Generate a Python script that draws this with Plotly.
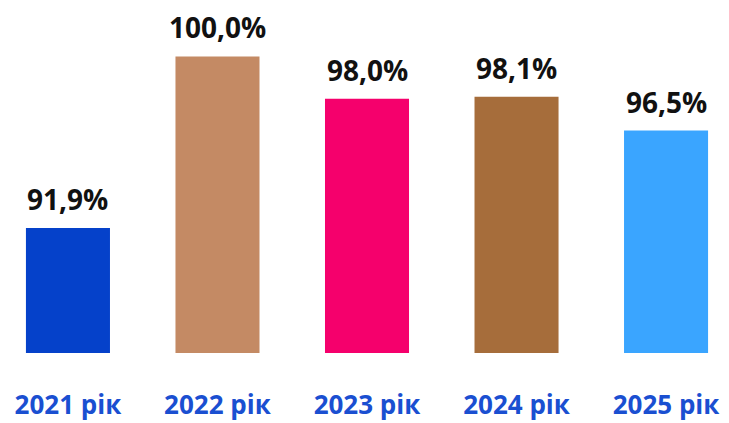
import plotly.graph_objects as go

years = ["2021 рік", "2022 рік", "2023 рік", "2024 рік", "2025 рік"]
values = [91.9, 100.0, 98.0, 98.1, 96.5]
labels = ["91,9%", "100,0%", "98,0%", "98,1%", "96,5%"]
bar_colors = ["#0541CA", "#C48A64", "#F5006C", "#A66D3B", "#3AA5FF"]

positions = list(range(len(years)))

fig = go.Figure(
    go.Bar(
        x=positions,
        y=values,
        width=0.562,
        marker=dict(color=bar_colors, line=dict(width=0)),
        hoverinfo="skip",
    )
)

# value labels above the bars
for pos, val, lab in zip(positions, values, labels):
    fig.add_annotation(
        x=pos,
        y=val,
        text=lab,
        showarrow=False,
        yanchor="bottom",
        yshift=8,
        font=dict(family="Open Sans, sans-serif", size=28, color="#111111", weight="bold"),
    )

# page body adds 8px margin, so the figure is 8px smaller than the window
fig.update_layout(
    width=721,
    height=415,
    margin=dict(l=0, r=0, t=6, b=70),
    paper_bgcolor="#FFFFFF",
    plot_bgcolor="#FFFFFF",
    showlegend=False,
)
fig.update_xaxes(
    range=[-0.401, 4.421],
    tickvals=positions,
    ticktext=years,
    tickfont=dict(family="Open Sans, sans-serif", size=26, color="#1A4FD1", weight="bold"),
    showgrid=False,
    zeroline=False,
    showline=False,
    ticks="",
    ticklabelstandoff=34,
)
fig.update_yaxes(range=[86, 102], visible=False)

fig.write_html("out.html")
